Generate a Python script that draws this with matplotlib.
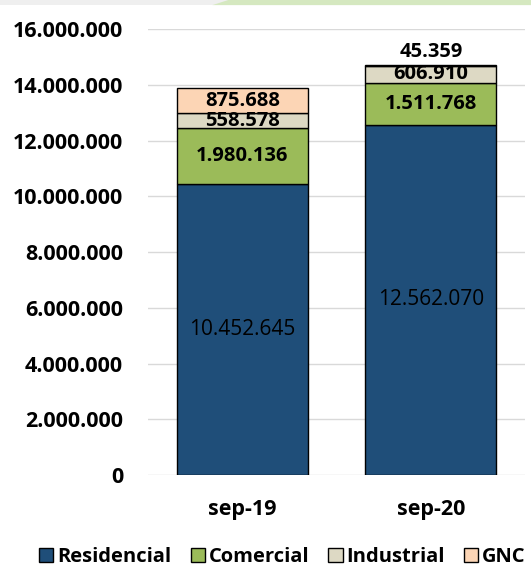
import numpy as np
import matplotlib.pyplot as plt
from matplotlib.patches import Polygon, Rectangle

plt.rcParams['font.family'] = ['Open Sans', 'DejaVu Sans']

# ---- data ----
periods = ["sep-19", "sep-20"]
residencial = [10452645, 12562070]
comercial = [1980136, 1511768]
industrial = [558578, 606910]
gnc = [875688, 45359]

series = [
    ("Residencial", residencial, "#1F4E79"),
    ("Comercial", comercial, "#9BBB59"),
    ("Industrial", industrial, "#DDD9C4"),
    ("GNC", gnc, "#FCD5B5"),
]

def fmt(v):
    return f"{v:,}".replace(",", ".")

fig = plt.figure(figsize=(5.31, 5.69), dpi=100)
ax = fig.add_axes([0.279, 0.165, 0.71, 0.784])

# header strip
fig.patches.append(Rectangle((0, 0.991), 1, 0.009, transform=fig.transFigure,
                             facecolor="#EFEFEF", edgecolor="none"))
fig.patches.append(Polygon([(0.40, 0.991), (0.43, 1.0), (1.0, 1.0), (1.0, 0.991)],
                           closed=True, transform=fig.transFigure,
                           facecolor="#D5E8C0", edgecolor="none"))

x = np.arange(len(periods))
width = 0.695
bottom = np.zeros(len(periods))
handles = []
for name, vals, color in series:
    vals = np.array(vals, dtype=float)
    b = ax.bar(x, vals, width, bottom=bottom, color=color, edgecolor="black",
               linewidth=1.0, label=name, zorder=3)
    handles.append(b)
    for i, v in enumerate(vals):
        if name == "GNC" and v < 300000:
            ax.text(x[i], bottom[i] + v + 100000, fmt(int(v)), ha="center", va="bottom",
                    fontsize=14.5, fontweight="bold", zorder=5)
        else:
            ax.text(x[i], bottom[i] + v / 2, fmt(int(v)), ha="center", va="center",
                    fontsize=14.5 if name != "Residencial" else 15,
                    fontweight="bold" if name != "Residencial" else "normal",
                    zorder=5)
    bottom += vals

ax.set_xlim(-0.5, 1.5)
ax.set_ylim(0, 16000000)
ax.set_yticks(np.arange(0, 16000001, 2000000))
ax.set_yticklabels([fmt(int(t)) for t in ax.get_yticks()], fontsize=15.5, fontweight="bold")
ax.set_xticks(x)
ax.set_xticklabels(periods, fontsize=15.5, fontweight="bold")
ax.tick_params(axis="y", length=0, pad=18)
ax.tick_params(axis="x", length=0, pad=17)
ax.yaxis.grid(True, color="#D9D9D9", linewidth=1.0, zorder=0)
ax.set_axisbelow(True)
for s in ax.spines.values():
    s.set_visible(False)

fig.legend(handles=handles, loc="center", bbox_to_anchor=(0.532, 0.021), ncol=4,
           frameon=False, handlelength=0.7, handleheight=0.7,
           handletextpad=0.2, columnspacing=0.95, prop={"weight": "bold", "size": 14.5})

fig.savefig("out.png", dpi=100)
